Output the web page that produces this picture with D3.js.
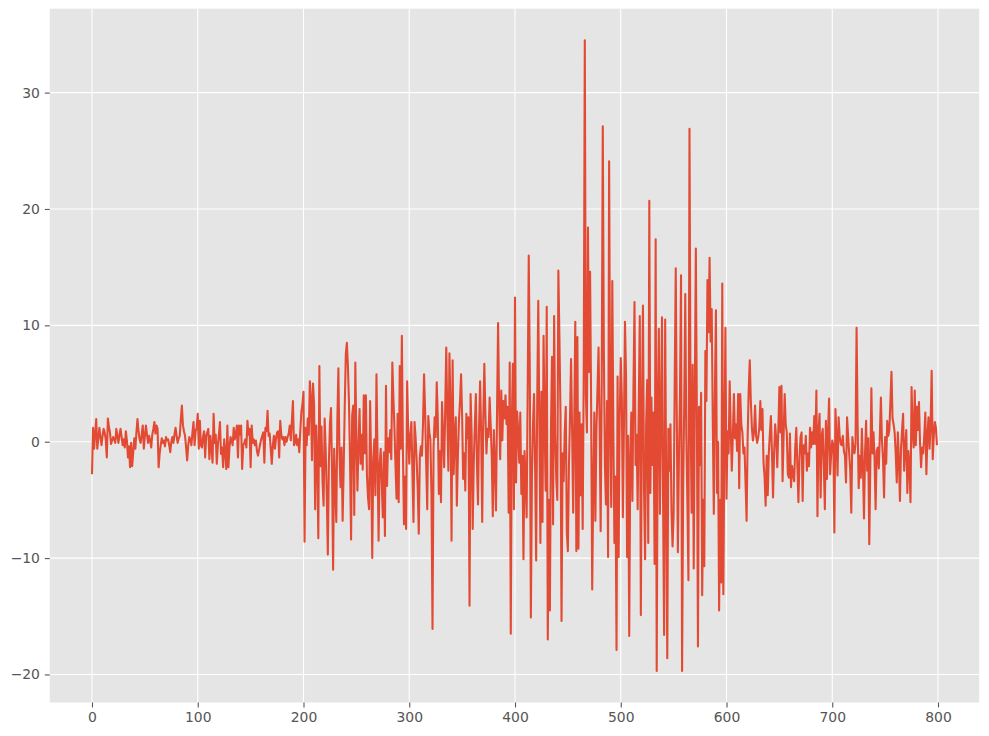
<!DOCTYPE html>
<html><head><meta charset="utf-8">
<script src="https://cdn.jsdelivr.net/npm/d3@7"></script>
<style>html,body{margin:0;padding:0;background:#fff;}svg{display:block;font-family:"DejaVu Sans",sans-serif;}</style>
</head><body><svg id="c" width="989" height="736"></svg>
<script>
const xTicks = [0,100,200,300,400,500,600,700,800];
const yTicks = [-20,-10,0,10,20,30];
const seg0 = [-2.8,1.2,-0.6,0.7,1.95,-0.6,0.3,1.2,0.4,-0.3, 0.5,1.1,0.8,0.2,-1.35,2.0,1.3,0.8,-0.2,0.1, 0.4,0.2,-0.1,1.1,0.5,-0.1,0.6,1.1,0.4,-0.3, 0.2,-0.5,0.9,0.1,-1.35,-0.4,-2.2,-0.1,-2.1,-0.9, 0.3,-0.6,0.8,1.95,0.9,0.2,-0.1,0.6,1.4,-0.6,
0.5,1.4,0.6,-0.1,0.5,0.1,-0.5,0.6,1.1,1.7, 0.7,1.4,1.1,-2.2,-1.0,-0.3,0.3,-0.1,0.1,-0.4, 0.4,0.1,0.2,-0.3,-0.9,0.0,0.4,-0.1,0.6,1.2, 0.5,-0.1,0.3,0.5,1.95,3.1,1.4,0.9,0.5,-0.5, -1.6,-0.3,0.4,0.2,-0.3,0.8,1.7,-0.3,0.9,1.2];
const seg1 = [2.4,-0.6,1.8,-0.3,-0.5,0.4,0.9,-1.35,0.5,0.8, 1.1,-1.5,0.5,-0.6,-1.8,2.4,-0.1,0.6,-1.9,-0.3, 0.6,1.7,-1.06,-0.5,-2.2,0.2,-0.9,-2.35,1.4,-2.2, -0.5,0.4,0.1,-0.3,1.2,0.2,0.6,1.4,-1.35,1.4, 0.6,1.4,-2.35,-0.3,-0.1,0.2,-0.5,1.8,0.6,1.1,
-2.2,1.4,-0.1,0.2,-0.3,0.1,-0.8,-1.2,-0.7,-0.2, 0.2,0.5,0.8,-1.8,1.2,0.9,2.65,0.5,0.7,-0.6, -1.9,-0.3,0.5,-0.6,0.3,0.8,0.9,-1.35,1.8,0.6, 0.2,0.4,-0.3,0.4,0.0,0.4,0.7,1.4,0.1,1.8, 3.5,-0.3,-0.1,0.6,-0.3,0.2,-0.9,1.0,2.6,3.2];
const seg2 = [4.3,-8.6,1.2,-0.3,2.0,0.6,5.2,3.8,-1.6,5.0, 3.2,-5.8,1.4,-1.2,-8.3,6.5,-2.1,1.3,-3.4,-5.5, 2.0,-0.8,-4.6,-9.7,-1.8,1.5,2.9,-2.6,-11.0,-0.6, -3.9,-6.9,1.8,6.3,-1.0,-3.9,-0.5,-6.8,-2.2,3.0, 7.5,8.5,6.5,3.4,-1.6,-8.4,2.2,3.1,-6.3,6.8,
0.4,-4.2,-0.3,2.8,-1.9,0.6,-2.4,4.0,-1.0,4.0, -2.9,-4.8,-5.8,3.5,-2.0,-10.0,-1.5,0.2,-4.6,5.8, -1.0,-8.5,-2.0,-0.6,-3.5,-6.5,-0.9,-8.1,4.8,-3.8, 0.3,-0.9,1.0,-1.5,6.8,3.8,1.2,-2.1,-4.9,2.4, -5.2,6.5,-0.6,9.1,-0.6,-7.1,-3.0,-7.5,5.2,1.0];
const seg3 = [-1.9,0.5,1.7,-2.5,-6.9,1.7,0.4,-1.6,-4.0,-7.9, -1.3,-0.4,-1.2,1.5,5.8,2.6,-1.8,-5.8,2.2,0.8, 0.2,-4.5,-16.1,-0.5,2.1,0.4,5.1,2.0,-4.5,-0.8, -5.2,3.4,0.5,-2.2,2.8,8.1,2.0,-2.5,7.6,3.0, -8.5,7.0,-2.8,0.5,2.1,-5.5,-1.2,1.8,3.5,5.8,
2.2,-3.2,-1.0,-4.2,2.4,0.3,2.1,-14.1,4.1,0.6, -7.5,-1.8,1.4,4.1,-1.9,-5.4,1.2,5.2,0.8,-6.9, 2.0,6.7,2.4,-1.0,1.1,0.4,3.8,1.5,-1.2,-6.4, 1.0,-2.0,-5.9,2.5,10.2,3.0,-1.5,4.4,0.1,3.5, 2.0,4.0,1.5,3.0,-6.1,6.8,-16.5,2.0,6.7,-5.8];
const seg4 = [12.4,-3.5,2.6,0.9,-1.8,2.5,-4.5,-1.2,-10.1,-0.8, -3.2,-6.5,4.5,16.0,6.0,-15.1,-3.0,1.5,4.1,-2.0, -10.2,3.5,12.1,2.0,-8.7,4.3,-6.9,9.1,1.5,-4.2, 11.6,-17.0,-5.0,-14.5,1.0,7.3,-7.1,10.8,0.5,-3.1, -5.0,14.7,9.0,2.5,-15.4,-1.0,-3.4,0.8,3.0,-7.8,
-9.4,-2.0,2.0,7.1,1.0,-6.1,1.5,10.3,-9.4,9.0, -9.2,2.5,-4.6,1.5,-7.5,6.0,34.5,4.0,0.8,18.4, 6.0,14.6,3.0,-12.7,-4.0,2.5,-6.8,1.0,4.5,8.1, 1.5,-7.7,5.0,27.1,8.0,-2.0,-5.4,3.5,-9.9,24.1, 2.0,-5.6,13.8,1.0,-8.7,-3.0,-17.9,5.6,-9.9,2.0];
const seg5 = [7.2,3.9,-6.5,1.2,10.3,5.6,-9.9,0.5,-16.7,-1.6, 2.5,-5.1,4.5,12.0,-2.0,0.6,-5.8,3.0,10.8,-14.9, 2.5,11.7,-4.0,-10.1,1.5,5.3,-8.7,20.7,-4.4,3.8, -2.0,2.5,-10.5,17.4,-19.7,3.0,9.7,-6.2,2.0,10.7, -5.0,-16.6,10.5,-4.0,-18.6,1.1,-2.5,1.5,-6.0,-9.0,
-6.2,5.0,14.9,2.0,-9.5,-1.5,4.0,14.3,-19.7,-4.0, 3.0,12.7,0.5,-5.0,-11.9,26.9,2.5,-6.1,6.6,-10.9, 3.5,16.6,2.0,-17.6,3.0,-2.0,4.2,-13.2,-5.0,-10.7, 7.8,3.5,13.9,9.4,15.8,8.6,11.4,2.0,-6.2,4.0, 11.3,-4.4,0.0,-14.5,-5.0,-12.1,13.6,-13.1,0.5,9.8];
const seg6 = [-4.9,0.9,-1.0,5.2,1.0,-2.5,0.5,4.1,0.3,1.5, -0.8,4.1,-4.0,4.1,1.5,0.8,-1.0,-0.5,-3.5,-6.8, 0.5,4.5,7.0,3.5,1.2,0.1,0.8,3.1,0.5,-0.1, 0.4,1.2,3.5,1.0,2.8,-1.8,-3.0,-5.5,-1.2,-4.6, -1.0,0.7,2.2,-1.0,-4.8,-1.0,1.5,0.3,-2.2,1.0,
4.7,0.8,4.8,-3.4,0.5,4.1,1.5,0.8,-2.8,-3.1, 0.7,-3.9,-2.1,-2.8,-3.4,-0.5,1.2,-2.0,-5.2,-1.5, 0.4,0.8,-5.1,-0.3,-1.0,0.5,-2.5,-1.0,-2.1,1.2, -0.5,0.8,-0.2,2.2,-0.2,4.4,-6.4,1.0,2.4,-4.8, 0.5,1.1,-2.0,-5.8,1.8,-3.2,0.8,3.7,-2.8,-1.0];
const seg7 = [0.1,-0.3,-7.8,2.8,0.5,-2.9,2.1,0.5,-0.2,-0.3, 0.5,-0.8,-1.2,-3.5,2.1,0.5,-1.0,-2.5,-6.1,0.4, -0.5,-1.0,-0.2,9.8,1.5,-4.0,-1.2,-3.1,1.1,-2.0, -6.6,-1.0,1.8,-2.5,0.3,-8.8,-2.0,4.6,-1.0,0.8, -1.5,-5.8,-0.8,-0.5,-2.3,0.5,3.8,0.1,-1.5,-4.8,
0.4,-1.9,1.8,0.5,1.0,3.5,6.0,2.0,1.5,0.8, -1.0,-3.5,0.8,-1.5,-5.1,-0.6,1.0,2.4,-2.5,-0.5, 1.0,-4.4,-0.8,-2.0,-5.2,4.7,1.0,-0.5,4.4,-0.3, 3.0,1.0,3.4,-0.1,-2.2,-0.5,-1.0,0.5,2.5,-2.8, 0.5,2.1,-0.6,1.5,6.1,-1.5,0.5,1.7,1.2,-0.3];
const values = [].concat(seg0, seg1, seg2, seg3, seg4, seg5, seg6, seg7);
const index = values.map((d, i) => i);

const svg = d3.select("#c");
const W = 989, H = 736;
const m = {left: 49.75, right: W - 979.2, top: 8.7, bottom: H - 702.5};
const iw = W - m.left - m.right, ih = H - m.top - m.bottom;

const xExt = d3.extent(index), yExt = d3.extent(values);
const xPad = (xExt[1] - xExt[0]) * 0.05, yPad = (yExt[1] - yExt[0]) * 0.05;
const x = d3.scaleLinear().domain([xExt[0] - xPad, xExt[1] + xPad]).range([m.left, m.left + iw]);
const y = d3.scaleLinear().domain([yExt[0] - yPad, yExt[1] + yPad]).range([m.top + ih, m.top]);

svg.append("rect").attr("x", m.left).attr("y", m.top).attr("width", iw).attr("height", ih).attr("fill", "#E5E5E5");

const g = svg.append("g");
g.selectAll("line.gx").data(xTicks).join("line").attr("class","gx")
  .attr("x1", d => x(d)).attr("x2", d => x(d)).attr("y1", m.top).attr("y2", m.top + ih)
  .attr("stroke", "#fff").attr("stroke-width", 1.1);
g.selectAll("line.gy").data(yTicks).join("line").attr("class","gy")
  .attr("y1", d => y(d)).attr("y2", d => y(d)).attr("x1", m.left).attr("x2", m.left + iw)
  .attr("stroke", "#fff").attr("stroke-width", 1.1);

const line = d3.line().x((d, i) => x(index[i])).y(d => y(d));
svg.append("path").datum(values).attr("d", line).attr("fill", "none")
  .attr("stroke", "#E24A33").attr("stroke-width", 2.08).attr("stroke-linejoin", "round").attr("stroke-linecap", "butt");

const xAxis = d3.axisBottom(x).tickValues(xTicks).tickSize(4.9).tickPadding(4.9).tickFormat(d3.format("d"));
const gx = svg.append("g").attr("transform", `translate(0,${m.top + ih})`).call(xAxis);
const yAxis = d3.axisLeft(y).tickValues(yTicks).tickSize(4.9).tickPadding(4.9)
  .tickFormat(d => d < 0 ? "\u2212" + Math.abs(d) : String(d));
const gy = svg.append("g").attr("transform", `translate(${m.left},0)`).call(yAxis);
[gx, gy].forEach(a => {
  a.select(".domain").remove();
  a.selectAll(".tick line").attr("stroke", "#555").attr("stroke-width", 1.1);
  a.selectAll(".tick text").attr("fill", "#555").style("font-size", "13.9px").style("font-family", "DejaVu Sans, sans-serif");
});
</script></body></html>
